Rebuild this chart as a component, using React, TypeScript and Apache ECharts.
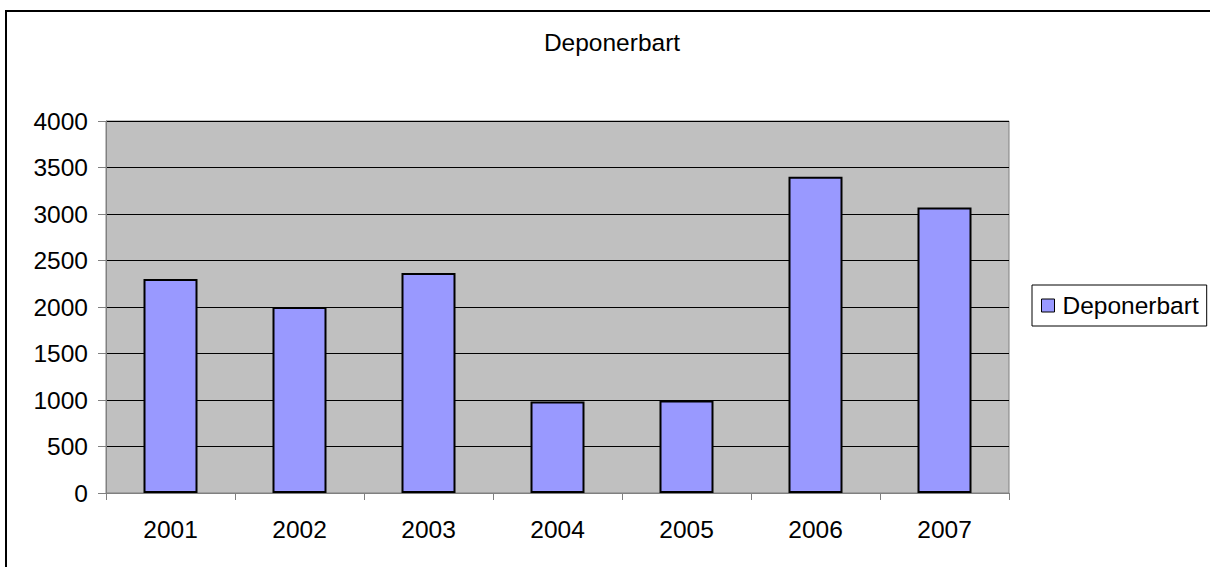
import React, { useEffect, useRef } from "react";
import * as echarts from "echarts";

const categories = ["2001", "2002", "2003", "2004", "2005", "2006", "2007"];
const seriesName = "Deponerbart";
const values = [2300, 2000, 2365, 985, 995, 3400, 3070];
const titleText = "Deponerbart";

const FONT = "Liberation Sans, Arial, sans-serif";
const FS = 24.5;

export default function App() {
  const ref = useRef<HTMLDivElement>(null);
  useEffect(() => {
    document.body.style.margin = "0";
    const chart = echarts.init(ref.current!, null, { renderer: "svg" });
    chart.setOption({
      animation: false,
      backgroundColor: "#ffffff",
      title: {
        text: titleText,
        left: 612,
        top: 30,
        textAlign: "center",
        padding: 0,
        textStyle: { fontFamily: FONT, fontSize: FS, fontWeight: "normal", color: "#000" },
      },
      legend: {
        data: [seriesName],
        left: 1032,
        top: 285,
        orient: "vertical",
        borderColor: "#000",
        borderWidth: 1,
        padding: [8, 8, 8, 9],
        itemWidth: 13,
        itemHeight: 13,
        icon: "rect",
        itemStyle: { borderColor: "#000", borderWidth: 1 },
        textStyle: { fontFamily: FONT, fontSize: FS, color: "#000", padding: [0, 0, 0, 3] },
      },
      grid: {
        left: 106,
        top: 121,
        width: 903,
        height: 372,
        show: true,
        backgroundColor: "#C0C0C0",
        borderColor: "#808080",
        borderWidth: 1,
      },
      xAxis: {
        type: "category",
        data: categories,
        axisLine: { show: true, lineStyle: { color: "#808080", width: 1 } },
        axisTick: { show: true, alignWithLabel: false, length: 7, lineStyle: { color: "#808080" } },
        axisLabel: { margin: 24, fontFamily: FONT, fontSize: FS, color: "#000" },
        splitLine: { show: false },
      },
      yAxis: {
        type: "value",
        min: 0,
        max: 4000,
        interval: 500,
        axisLine: { show: true, lineStyle: { color: "#808080", width: 1 } },
        axisTick: { show: true, length: 8, lineStyle: { color: "#808080" } },
        axisLabel: {
          margin: 18,
          fontFamily: FONT,
          fontSize: FS,
          color: "#000",
          formatter: (v: number) => String(v),
        },
        splitLine: { show: true, lineStyle: { color: "#000", width: 1 } },
      },
      series: [
        {
          name: seriesName,
          type: "bar",
          data: values,
          barWidth: 54,
          itemStyle: { color: "#9999FF", borderColor: "#000", borderWidth: 2 },
        },
      ],
      graphic: [
        {
          type: "line",
          shape: { x1: 5, y1: 11, x2: 1210, y2: 11 },
          style: { stroke: "#000", lineWidth: 2 },
          silent: true,
          z: 100,
        },
        {
          type: "line",
          shape: { x1: 6, y1: 10, x2: 6, y2: 567 },
          style: { stroke: "#000", lineWidth: 2 },
          silent: true,
          z: 100,
        },
      ],
    });
    return () => chart.dispose();
  }, []);
  return <div ref={ref} style={{ width: 1210, height: 567 }} />;
}
